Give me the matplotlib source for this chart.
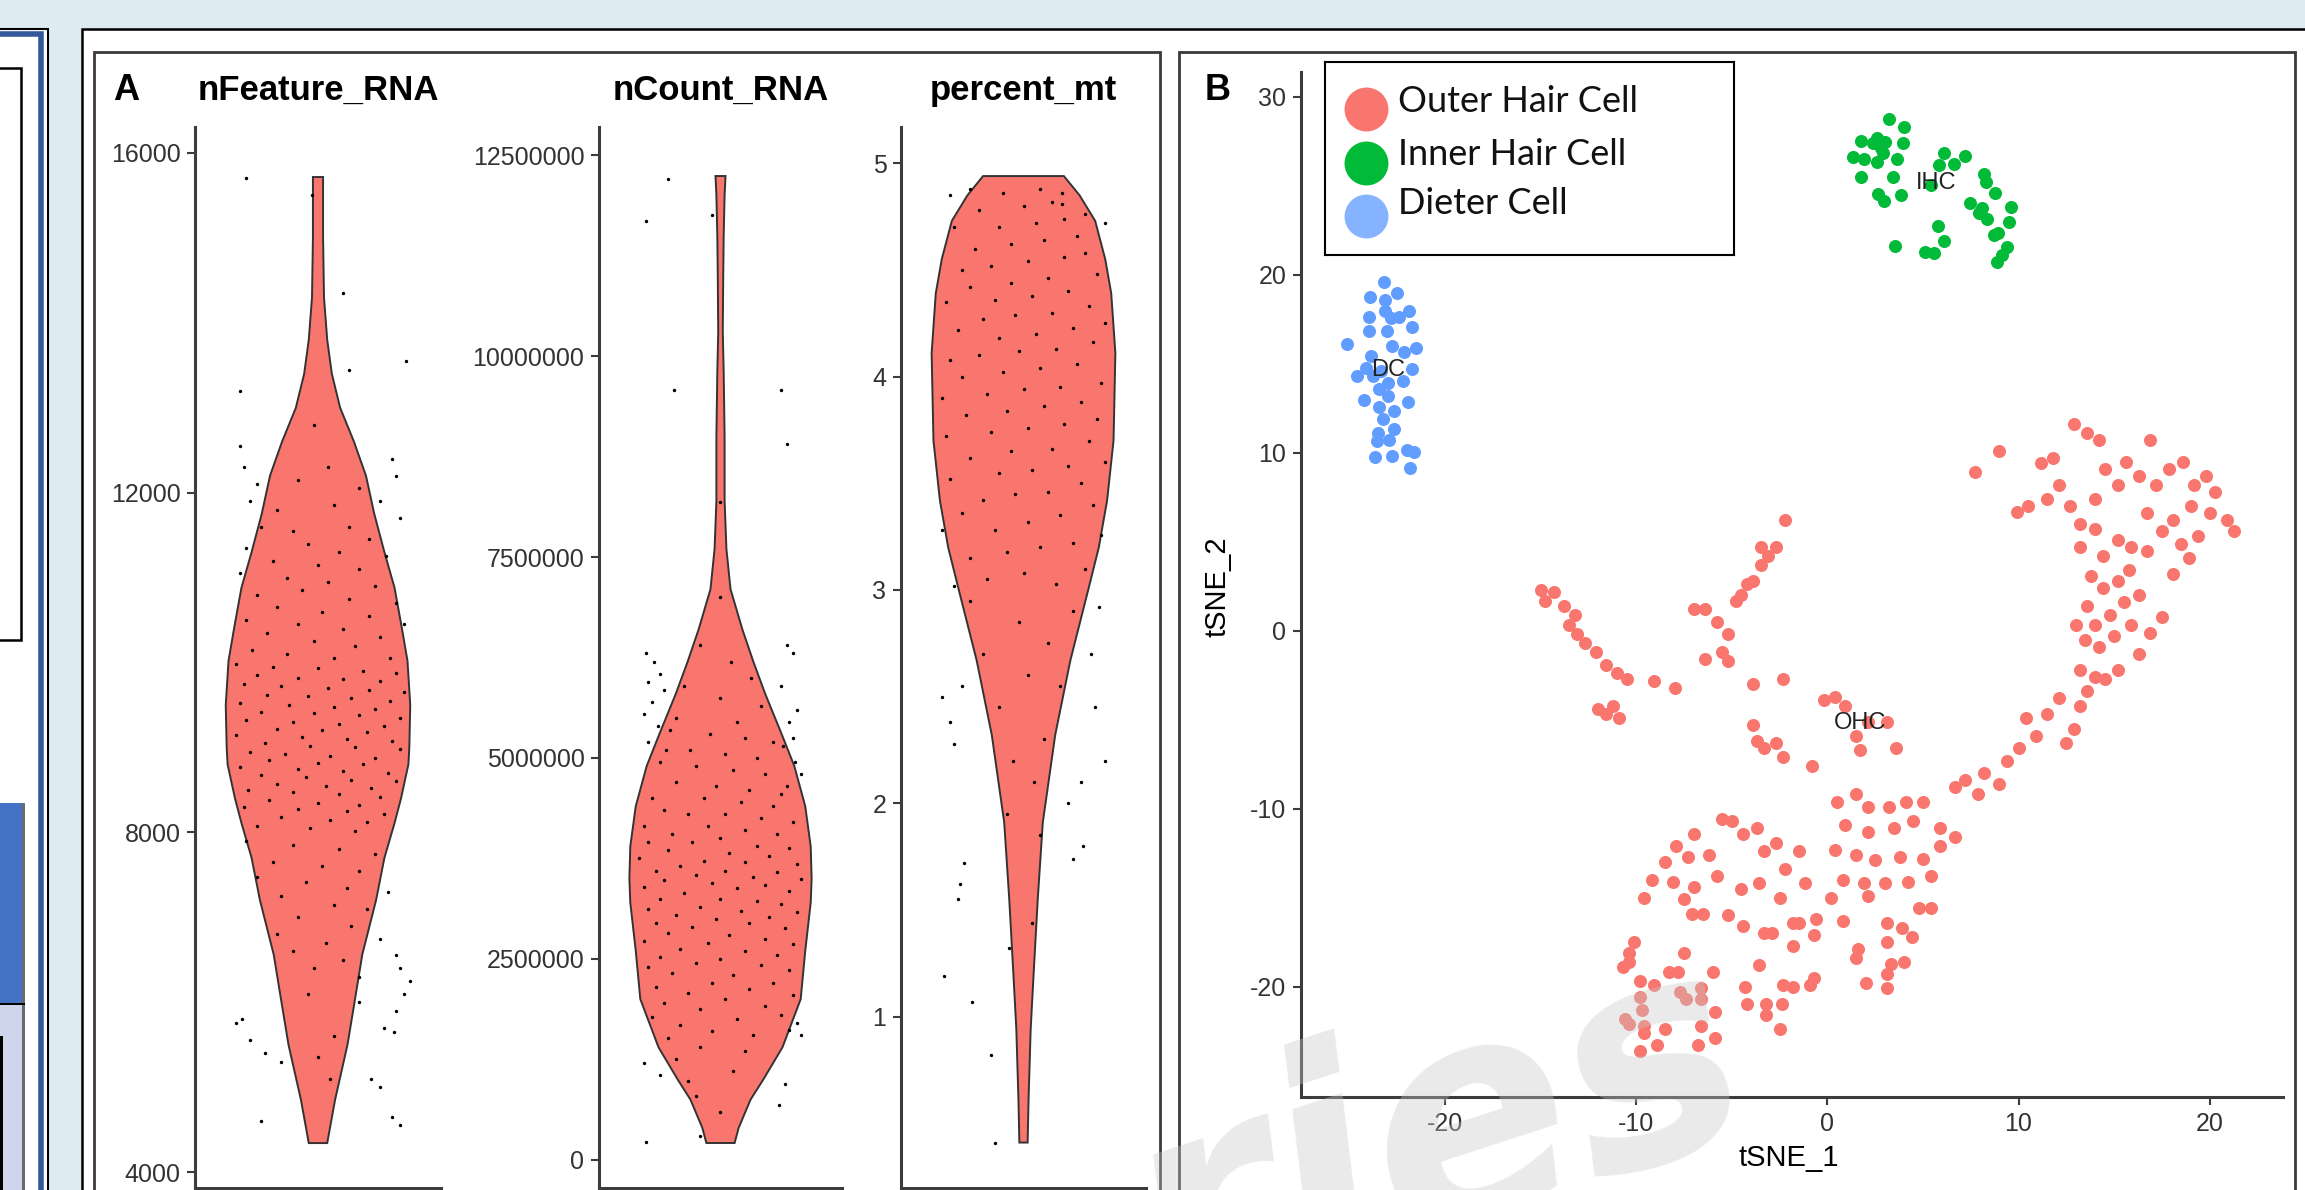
import matplotlib
matplotlib.use('Agg')
import matplotlib.pyplot as plt
from matplotlib.patches import Rectangle
import numpy as np

plt.rcParams['axes.unicode_minus'] = False

W, H = 2305, 1190
SANS = ['Liberation Sans', 'DejaVu Sans']

# ---------------- panel A data ----------------
# violin outlines: value, relative half width (1 = widest)
feat_val = [15717, 15000, 14300, 13800, 13400, 13000, 12600, 12200, 11750, 11300, 10880, 10400,
            10020, 9500, 9000, 8800, 8400, 8110, 7700, 7204, 6560, 6027, 5500, 4850, 4341]
feat_w = [0.055, 0.055, 0.065, 0.10, 0.15, 0.24, 0.39, 0.52, 0.61, 0.72, 0.83, 0.91,
          0.97, 1.00, 0.99, 0.98, 0.90, 0.83, 0.72, 0.63, 0.48, 0.40, 0.32, 0.185, 0.10]

count_val = [12.24, 12.0, 11.5, 11.0, 10.3, 9.8, 9.0, 8.2, 7.6, 7.1, 6.6, 6.2, 5.8, 5.3,
             4.9, 4.4, 3.9, 3.5, 3.2, 2.6, 2.0, 1.4, 1.0, 0.75, 0.4, 0.21]
count_w = [0.055, 0.045, 0.035, 0.03, 0.025, 0.035, 0.045, 0.045, 0.065, 0.11, 0.24, 0.36, 0.49, 0.67,
           0.81, 0.93, 0.99, 1.00, 0.99, 0.93, 0.88, 0.68, 0.47, 0.33, 0.20, 0.155]

mt_val = [4.94, 4.85, 4.73, 4.55, 4.39, 4.11, 3.70, 3.42, 3.2, 3.01, 2.67, 2.32, 1.91, 1.55,
          1.2, 0.94, 0.61, 0.41]
mt_w = [0.44, 0.61, 0.78, 0.89, 0.955, 1.00, 0.98, 0.91, 0.82, 0.71, 0.51, 0.345, 0.21, 0.155,
        0.11, 0.078, 0.055, 0.045]

# jittered cells: (offset from violin centre, value)
feat_pts = [(-0.35, 15700), (-0.03, 15500), (0.12, 14350), (0.43, 13550), (-0.38, 13200), (0.15, 13450),
            (-0.38, 12550), (-0.36, 12300), (0.36, 12400), (0.38, 12200), (-0.30, 12100), (0.05, 12300),
            (-0.10, 12150), (0.20, 12050), (-0.02, 12800),
            (-0.33, 11900), (-0.20, 11800), (0.08, 11850), (0.30, 11900), (0.40, 11700), (-0.28, 11600),
            (-0.12, 11550), (0.15, 11600), (0.25, 11450), (-0.35, 11350), (-0.05, 11400), (0.10, 11300),
            (0.33, 11250), (-0.22, 11200), (0.00, 11150), (0.20, 11100), (-0.38, 11050), (-0.15, 11000),
            (0.05, 10950), (0.28, 10900), (-0.30, 10800), (-0.08, 10850), (0.15, 10750), (0.38, 10700),
            (-0.20, 10650), (0.02, 10600), (0.25, 10550), (-0.35, 10500), (-0.10, 10450), (0.12, 10400),
            (0.42, 10450), (-0.25, 10350), (0.30, 10300), (-0.02, 10250), (0.18, 10200), (-0.32, 10150),
            (-0.15, 10100), (0.08, 10050), (0.35, 10050),
            (-0.40, 9980), (-0.22, 9950), (0.00, 9930), (0.22, 9900), (0.38, 9880), (-0.30, 9850),
            (-0.10, 9820), (0.12, 9800), (0.30, 9780), (-0.36, 9750), (-0.18, 9720), (0.05, 9700),
            (0.25, 9680), (0.42, 9650), (-0.25, 9620), (-0.05, 9600), (0.16, 9580), (0.35, 9550),
            (-0.38, 9520), (-0.14, 9500), (0.08, 9480), (0.28, 9450), (-0.28, 9420), (-0.02, 9400),
            (0.20, 9380), (0.40, 9350), (-0.35, 9320), (-0.12, 9300), (0.10, 9280), (0.32, 9250),
            (-0.20, 9220), (0.02, 9200), (0.24, 9180), (-0.40, 9150), (-0.08, 9120), (0.14, 9100),
            (0.36, 9080), (-0.26, 9050), (-0.04, 9020), (0.18, 9000), (0.40, 8980), (-0.33, 8950),
            (-0.16, 8920), (0.06, 8900), (0.28, 8880), (-0.24, 8850), (0.00, 8820), (0.22, 8800),
            (-0.38, 8770), (-0.10, 8750), (0.12, 8720), (0.34, 8700), (-0.28, 8670), (-0.06, 8650),
            (0.16, 8620), (0.38, 8600), (-0.20, 8570), (0.04, 8550), (0.26, 8520), (-0.34, 8500),
            (-0.12, 8470), (0.10, 8450), (0.30, 8420), (-0.24, 8380), (0.00, 8350), (0.20, 8320),
            (-0.36, 8300), (-0.10, 8270), (0.14, 8250), (0.32, 8220), (-0.18, 8180), (0.06, 8150),
            (0.24, 8120), (-0.30, 8080), (-0.04, 8050), (0.18, 8020),
            (-0.35, 7900), (-0.12, 7850), (0.10, 7800), (0.28, 7750), (-0.22, 7650), (0.02, 7600),
            (0.20, 7550), (-0.30, 7480), (-0.06, 7420), (0.14, 7350), (0.34, 7300), (-0.18, 7250),
            (0.08, 7150), (0.24, 7100), (-0.10, 7000), (0.16, 6900), (-0.20, 6800), (0.04, 6700),
            (0.30, 6750), (-0.12, 6600), (0.12, 6500), (0.38, 6550), (-0.02, 6400), (0.20, 6300),
            (-0.40, 5750), (-0.37, 5800), (-0.33, 5550), (-0.26, 5400), (-0.18, 5300), (0.08, 5600),
            (0.32, 5700), (0.37, 5650), (0.38, 5900), (0.42, 6100), (0.45, 6250), (0.06, 5100),
            (0.26, 5100), (0.30, 5000), (-0.28, 4600), (0.36, 4650), (0.40, 4550), (0.00, 5350),
            (0.20, 6000), (-0.05, 6100), (0.40, 6400)]

count_pts = [(-0.26, 12.2), (-0.37, 11.68), (-0.04, 11.75), (-0.23, 9.58), (0.30, 9.58), (0.33, 8.9),
             (0.0, 8.18), (0.0, 7.0),
             (-0.37, 6.3), (-0.33, 6.2), (-0.30, 6.05), (-0.36, 5.95), (-0.28, 5.85), (-0.34, 5.7),
             (-0.38, 5.55), (-0.31, 5.4), (-0.36, 5.2), (-0.27, 5.1),
             (0.33, 6.4), (0.36, 6.3), (0.30, 5.9), (0.38, 5.6), (0.34, 5.45), (0.36, 5.25), (0.31, 5.15),
             (0.37, 4.95), (0.40, 4.8), (0.33, 4.65),
             (-0.10, 6.4), (0.05, 6.2), (0.15, 6.0), (-0.18, 5.9), (0.0, 5.75), (0.20, 5.65), (-0.22, 5.5),
             (0.08, 5.45), (-0.25, 5.35), (-0.05, 5.3), (0.12, 5.25), (0.26, 5.2), (-0.15, 5.1), (0.02, 5.05),
             (0.18, 5.0), (-0.30, 4.95), (-0.12, 4.9), (0.06, 4.85), (0.22, 4.8), (-0.22, 4.7), (-0.02, 4.65),
             (0.14, 4.6), (0.30, 4.55), (-0.34, 4.5), (-0.08, 4.5), (0.10, 4.45), (0.26, 4.4), (-0.28, 4.35),
             (-0.16, 4.3), (0.02, 4.3), (0.20, 4.25), (0.36, 4.2), (-0.38, 4.15), (-0.06, 4.15), (0.12, 4.1),
             (-0.24, 4.05), (0.28, 4.05), (0.0, 4.0), (-0.36, 3.95), (-0.14, 3.95), (0.18, 3.9), (0.34, 3.88),
             (-0.26, 3.85), (0.04, 3.82), (0.24, 3.78), (-0.40, 3.75), (-0.08, 3.72), (0.12, 3.7), (0.38, 3.68),
             (-0.20, 3.65), (-0.32, 3.6), (0.02, 3.6), (0.28, 3.58), (-0.12, 3.55), (0.16, 3.52), (0.40, 3.5),
             (-0.28, 3.48), (-0.04, 3.45), (0.22, 3.42), (-0.38, 3.4), (0.08, 3.38), (0.34, 3.35), (-0.18, 3.32),
             (-0.30, 3.25), (0.00, 3.25), (0.18, 3.22), (0.30, 3.18), (-0.10, 3.15), (-0.36, 3.12), (0.10, 3.1),
             (0.38, 3.08), (-0.22, 3.05), (0.24, 3.02), (-0.02, 3.0), (-0.32, 2.95), (0.14, 2.95), (-0.14, 2.9),
             (0.32, 2.88), (-0.26, 2.82), (0.04, 2.8), (0.22, 2.75), (-0.38, 2.72), (-0.06, 2.7), (0.36, 2.68),
             (-0.20, 2.62), (0.12, 2.6), (0.28, 2.55), (-0.30, 2.52), (0.00, 2.5), (-0.12, 2.45), (0.20, 2.42),
             (-0.36, 2.4), (0.34, 2.36), (-0.24, 2.32), (0.06, 2.3), (-0.04, 2.2), (0.26, 2.2), (-0.32, 2.15),
             (0.14, 2.12), (-0.16, 2.08), (0.36, 2.05), (0.02, 2.0), (-0.28, 1.95), (0.22, 1.92), (-0.10, 1.88),
             (0.30, 1.8), (-0.34, 1.78), (0.08, 1.75), (0.38, 1.7), (-0.20, 1.68), (0.34, 1.62), (-0.04, 1.6),
             (0.16, 1.55), (0.40, 1.55), (-0.26, 1.52), (-0.10, 1.4), (0.12, 1.35), (-0.38, 1.2), (-0.22, 1.25),
             (0.06, 1.1), (-0.16, 0.98), (-0.30, 1.05), (0.32, 0.95), (-0.12, 0.8), (0.29, 0.68), (0.0, 0.6),
             (-0.37, 0.22), (-0.1, 0.3)]

mt_pts = [(-0.32, 1.55), (-0.39, 1.19), (-0.25, 1.07), (-0.07, 1.32), (0.04, 1.44), (-0.16, 0.82),
          (-0.14, 0.41), (-0.29, 1.72), (-0.31, 1.62), (0.29, 1.80), (0.24, 1.74), (0.22, 2.0), (0.28, 2.1),
          (-0.30, 2.55), (-0.34, 2.28), (-0.36, 2.38), (0.33, 2.7), (0.35, 2.45), (0.37, 2.92), (-0.05, 2.2),
          (0.10, 2.3), (-0.12, 2.45), (0.02, 2.6), (0.18, 2.55), (-0.20, 2.7), (0.12, 2.75), (-0.02, 2.85),
          (0.24, 2.9), (-0.26, 2.95), (0.05, 2.1), (-0.08, 1.95), (0.08, 1.85), (-0.40, 2.5), (0.40, 2.2),
          (-0.34, 3.02), (-0.18, 3.05), (0.00, 3.08), (0.16, 3.03), (0.30, 3.1), (-0.26, 3.15), (-0.08, 3.18),
          (0.08, 3.2), (0.24, 3.22), (0.38, 3.26), (-0.40, 3.28), (-0.14, 3.28),
          (0.02, 3.32), (0.18, 3.35), (-0.30, 3.36), (0.34, 3.4), (-0.20, 3.42), (-0.04, 3.45), (0.12, 3.46),
          (0.28, 3.5), (-0.36, 3.52), (-0.12, 3.55), (0.04, 3.56), (0.22, 3.58), (0.40, 3.6),
          (-0.26, 3.62), (-0.06, 3.65), (0.14, 3.66), (0.32, 3.7), (-0.38, 3.72), (-0.16, 3.74), (0.02, 3.76),
          (0.20, 3.78), (0.36, 3.8), (-0.28, 3.82), (-0.08, 3.84), (0.10, 3.86), (0.28, 3.88), (-0.40, 3.9),
          (-0.18, 3.92), (0.00, 3.94), (0.18, 3.95), (0.38, 3.97), (-0.30, 4.0), (-0.10, 4.02), (0.08, 4.04),
          (0.26, 4.06), (-0.36, 4.08), (-0.22, 4.1), (-0.02, 4.12), (0.16, 4.13), (0.34, 4.16), (-0.12, 4.18),
          (0.06, 4.2), (-0.32, 4.22), (0.24, 4.23), (0.40, 4.25), (-0.20, 4.27), (-0.04, 4.29), (0.14, 4.3),
          (0.32, 4.33), (-0.38, 4.35), (-0.14, 4.36), (0.04, 4.38), (0.22, 4.4), (-0.26, 4.42), (-0.06, 4.44),
          (0.12, 4.46), (0.36, 4.48), (-0.30, 4.5), (-0.16, 4.52), (0.02, 4.54), (0.20, 4.56), (0.30, 4.58),
          (-0.24, 4.6), (-0.06, 4.62), (0.10, 4.64), (0.26, 4.66), (-0.34, 4.7), (-0.12, 4.7), (0.06, 4.72),
          (0.20, 4.74), (-0.22, 4.78), (0.00, 4.8), (0.14, 4.82), (0.30, 4.76), (-0.10, 4.86), (0.08, 4.88),
          (-0.36, 4.85), (0.40, 4.72), (0.19, 4.86), (0.19, 4.81), (-0.26, 4.88)]

feat_ticks = [4000, 8000, 12000, 16000]
count_ticks = [0, 2500000, 5000000, 7500000, 10000000, 12500000]
mt_ticks = [1, 2, 3, 4, 5]
titles_a = ['nFeature_RNA', 'nCount_RNA', 'percent_mt']

# ---------------- panel B data ----------------
ohc = [(-15.0, 2.3), (-14.3, 2.2), (-14.8, 1.7), (-13.8, 1.4), (-13.2, 0.9), (-13.5, 0.3), (-13.1, -0.2),
       (-12.7, -0.7), (-12.1, -1.2), (-11.6, -1.9), (-11.0, -2.4), (-10.5, -2.7), (-9.1, -2.8), (-8.0, -3.2),
       (-11.6, -4.7), (-10.9, -4.9), (-12.0, -4.4), (-11.2, -4.2),
       (-7.0, 1.2), (-6.4, 1.2), (-5.8, 0.5), (-5.2, -0.2), (-5.5, -1.2), (-5.2, -1.7), (-6.4, -1.6),
       (-4.8, 1.7), (-4.5, 2.0), (-4.2, 2.6), (-3.9, 2.8), (-3.5, 3.7), (-3.1, 4.2), (-2.7, 4.7), (-2.2, 6.2),
       (-3.5, 4.7),
       (-3.9, -3.0), (-2.3, -2.7), (-3.9, -5.3), (-3.7, -6.2), (-3.3, -6.6), (-2.7, -6.3), (-2.3, -7.1),
       (-0.8, -7.6), (-0.2, -3.9), (0.4, -3.7), (0.9, -4.2), (1.5, -5.9), (2.1, -5.1), (3.1, -5.1),
       (3.6, -6.6), (1.7, -6.7),
       (-5.5, -10.6), (-5.0, -10.7), (-4.4, -11.4), (-3.7, -11.1), (-7.0, -11.4), (-7.9, -12.1), (-8.5, -13.0),
       (-7.3, -12.7), (-6.2, -12.6), (-3.3, -12.4), (-2.7, -11.9), (-1.5, -12.4), (-2.2, -13.4), (-9.2, -14.0),
       (-8.1, -14.1), (-7.0, -14.4), (-5.8, -13.8), (-4.5, -14.5), (-3.6, -14.2), (-2.5, -15.0), (-1.2, -14.2),
       (-9.6, -15.0), (-7.5, -15.1),
       (-7.1, -15.9), (-6.5, -15.9), (-5.2, -16.0), (-4.4, -16.6), (-3.3, -17.0), (-2.9, -17.0), (-1.8, -16.4),
       (-1.5, -16.4), (-0.6, -16.2), (0.8, -16.3), (-0.7, -17.1), (-1.8, -17.7), (-7.5, -18.1), (-10.1, -17.5),
       (-10.4, -18.1), (-10.4, -18.6), (-10.7, -18.9), (-8.3, -19.2), (-7.8, -19.2), (-6.0, -19.2),
       (-3.6, -18.8), (-9.8, -19.7), (-9.1, -19.9), (-4.3, -20.0), (-2.3, -19.9), (-1.8, -20.0), (-0.9, -19.9),
       (-0.7, -19.5), (-7.7, -20.3), (-6.6, -20.1), (-7.4, -20.7), (-6.6, -20.7), (-9.8, -20.6), (-9.7, -21.3),
       (-10.6, -21.8), (-10.4, -22.1), (-9.6, -22.2), (-9.6, -22.6), (-8.5, -22.4), (-6.6, -22.2),
       (-5.9, -21.4), (-4.2, -21.0), (-3.2, -21.0), (-2.4, -21.0), (-3.2, -21.6), (-2.5, -22.4), (-9.8, -23.6),
       (-8.9, -23.3), (-6.8, -23.3), (-5.9, -22.9),
       (0.5, -9.6), (1.5, -9.2), (2.1, -9.9), (3.2, -9.9), (4.1, -9.6), (5.0, -9.6), (0.9, -10.9), (2.1, -11.3),
       (3.5, -11.1), (4.5, -10.7), (5.9, -11.1), (0.4, -12.3), (1.5, -12.6), (2.5, -12.9), (3.8, -12.7),
       (5.0, -12.8), (5.9, -12.1), (6.7, -11.6), (0.8, -14.0), (1.9, -14.2), (3.0, -14.2), (4.2, -14.1),
       (5.4, -13.8), (0.2, -15.0), (2.1, -14.9),
       (4.8, -15.6), (5.4, -15.6), (3.1, -16.4), (3.9, -16.7), (4.4, -17.2), (3.1, -17.5), (3.3, -18.7),
       (4.0, -18.6), (3.1, -19.3), (3.1, -20.1), (2.0, -19.8), (1.6, -17.9), (1.5, -18.4),
       (6.7, -8.8), (7.2, -8.4), (7.9, -9.2), (8.2, -8.0), (9.0, -8.6), (9.4, -7.3), (10.0, -6.6), (10.4, -4.9),
       (10.9, -5.9), (11.5, -4.7), (12.1, -3.8), (12.9, -5.5), (12.5, -6.3), (13.2, -4.2), (13.6, -3.4),
       (14.0, -2.6),
       (7.7, 8.9), (9.0, 10.1), (9.9, 6.7), (10.5, 7.0), (11.5, 7.4), (11.2, 9.4), (12.1, 8.2), (12.7, 7.0),
       (13.2, 6.0), (14.0, 7.4), (14.5, 9.1), (15.2, 8.2), (15.6, 9.5), (16.3, 8.7), (16.9, 10.7),
       (12.9, 11.6), (13.6, 11.1), (14.2, 10.7), (11.8, 9.7), (17.2, 8.2), (17.9, 9.1), (18.6, 9.5),
       (19.2, 8.2), (19.8, 8.7), (20.3, 7.8), (20.9, 6.2), (21.3, 5.6), (20.0, 6.6), (19.0, 7.0), (18.1, 6.2),
       (17.5, 5.6), (16.7, 4.5), (15.9, 4.7), (15.2, 5.1), (14.4, 4.2), (13.8, 3.1), (14.4, 2.4), (15.2, 2.8),
       (15.8, 3.4), (16.3, 2.0), (15.5, 1.6), (14.8, 0.9), (14.0, 0.3), (13.5, -0.5), (14.2, -0.9),
       (15.0, -0.3), (15.9, 0.3), (16.9, -0.1), (17.5, 0.8), (18.1, 3.2), (18.9, 4.1), (19.4, 5.3),
       (16.3, -1.3), (15.2, -2.2), (14.5, -2.7), (13.2, -2.2), (13.6, 1.4), (13.0, 0.3), (16.7, 6.6),
       (18.5, 4.9), (14.0, 5.7), (13.2, 4.7)]

ihc = [(3.23, 28.75), (3.99, 28.3), (1.77, 27.55), (2.6, 27.68), (3.0, 27.49), (3.93, 27.4), (1.34, 26.65),
       (1.9, 26.5), (2.58, 26.37), (2.91, 26.84), (3.65, 26.52), (1.77, 25.52), (3.43, 25.52), (2.67, 24.55),
       (2.95, 24.17), (3.84, 24.46), (6.12, 26.84), (7.21, 26.69), (5.82, 26.18), (6.63, 26.24),
       (5.41, 25.06), (8.19, 25.67), (8.28, 25.24), (8.78, 24.62), (7.47, 24.03), (8.1, 23.75), (7.91, 23.47),
       (8.37, 23.13), (9.61, 23.8), (9.52, 22.96), (8.74, 22.25), (8.93, 22.38), (9.39, 21.56), (9.11, 21.12),
       (8.87, 20.75), (5.78, 22.75), (6.08, 21.93), (3.56, 21.65), (5.13, 21.27), (5.56, 21.22),
       (2.36, 27.4), (2.82, 27.12)]

dc = [(-23.19, 19.59), (-23.93, 18.78), (-22.53, 18.97), (-23.16, 18.56), (-23.14, 17.99), (-23.98, 17.66),
      (-22.41, 17.66), (-21.89, 17.98), (-21.76, 17.06), (-23.05, 16.87), (-23.98, 16.87), (-22.84, 17.57),
      (-25.16, 16.12), (-22.79, 16.01), (-22.18, 15.64), (-21.54, 15.88), (-23.89, 15.45), (-24.15, 14.76),
      (-24.62, 14.33), (-23.37, 14.62), (-21.76, 14.70), (-22.23, 14.01), (-23.45, 13.58), (-22.98, 13.92),
      (-22.98, 13.20), (-24.27, 12.94), (-21.94, 12.83), (-23.45, 12.6), (-22.7, 12.36), (-23.28, 11.89),
      (-22.67, 11.33), (-23.51, 11.1), (-23.58, 10.64), (-22.93, 10.73), (-23.68, 9.74), (-22.81, 9.83),
      (-22.01, 10.17), (-21.63, 10.07), (-21.85, 9.14), (-23.80, 14.29)]

cluster_labels = ['OHC', 'IHC', 'DC']
cluster_label_xy = [(1.7, -5.2), (5.7, 25.15), (-22.98, 14.66)]
legend_names = ['Outer Hair Cell', 'Inner Hair Cell', 'Dieter Cell']
tsne_xticks = [-20, -10, 0, 10, 20]
tsne_yticks = [-20, -10, 0, 10, 20, 30]

RED, GREEN, BLUE = '#F8766D', '#00BA38', '#619CFF'


def fbox(x0, y0, x1, y1):
    return [x0 / W, 1 - y1 / H, (x1 - x0) / W, (y1 - y0) / H]


def rect(fig, x0, y0, x1, y1, **kw):
    b = fbox(x0, y0, x1, y1)
    fig.add_artist(Rectangle((b[0], b[1]), b[2], b[3], transform=fig.transFigure, **kw))


fig = plt.figure(figsize=(W / 100, H / 100), dpi=100, facecolor='#DEEBF1')

# slide decorations
rect(fig, -5, 29, 48, 1200, facecolor='white', edgecolor='black', lw=1.5, zorder=-10)
rect(fig, -5, 34, 41.5, 1200, facecolor='none', edgecolor='#34589A', lw=4, zorder=-9)
rect(fig, -5, 68, 21, 640, facecolor='white', edgecolor='black', lw=1.8, zorder=-8)
rect(fig, -5, 803, 22, 1004, facecolor='#4472C4', edgecolor='none', zorder=-8)
rect(fig, 22, 803, 25, 1200, facecolor='#6b6b6b', edgecolor='none', zorder=-8)
rect(fig, -5, 1004, 22, 1200, facecolor='#CFD5EA', edgecolor='none', zorder=-8)
rect(fig, -5, 1003, 25, 1005, facecolor='black', edgecolor='none', zorder=-7)
rect(fig, -5, 1036, 3, 1200, facecolor='black', edgecolor='none', zorder=-7)
rect(fig, 82, 29, 2320, 1200, facecolor='white', edgecolor='black', lw=1.8, zorder=-10)
rect(fig, 94, 52, 1160, 1200, facecolor='none', edgecolor='#3a3a3a', lw=2, zorder=-6)
rect(fig, 1179, 52, 2295, 1200, facecolor='none', edgecolor='#3a3a3a', lw=2, zorder=-6)


def style(ax):
    ax.patch.set_visible(False)
    for s in ['top', 'right']:
        ax.spines[s].set_visible(False)
    for s in ['left', 'bottom']:
        ax.spines[s].set_linewidth(2.2)
        ax.spines[s].set_color('#3c3c3c')
    ax.tick_params(direction='out', length=5.5, width=1.5, color='#3c3c3c', pad=5,
                   labelsize=18, labelcolor='#333333')
    for t in ax.get_xticklabels() + ax.get_yticklabels():
        t.set_family(SANS)


# ---------------- panel A ----------------
violins = [
    (fbox(195, 127, 441, 1188), feat_val, feat_w, feat_pts, (3812, 16306), feat_ticks, 1.0),
    (fbox(599, 127, 842, 1188), count_val, count_w, count_pts, (-0.35, 12.85), count_ticks, 1e6),
    (fbox(901, 127, 1146, 1188), mt_val, mt_w, mt_pts, (0.197, 5.17), mt_ticks, 1.0),
]
for (pos, vals, rel, pts, ylim, ticks, unit), title in zip(violins, titles_a):
    ax = fig.add_axes(pos)
    v = np.array(vals) * unit
    w = np.array(rel) * 0.45
    ax.fill(np.concatenate([1 - w, (1 + w)[::-1]]), np.concatenate([v, v[::-1]]),
            facecolor=RED, edgecolor='#333333', lw=1.4, zorder=2)
    p = np.array(pts)
    ax.scatter(1 + p[:, 0], p[:, 1] * unit, s=6, c='black', linewidths=0, zorder=3)
    ax.set_xlim(0.4, 1.6)
    ax.set_ylim(ylim[0] * unit, ylim[1] * unit)
    ax.set_xticks([])
    ax.set_yticks(ticks)
    ax.set_yticklabels([str(t) for t in ticks])
    style(ax)
    cx = (pos[0] + pos[2] / 2)
    fig.text(cx, 1 - 100 / H, title, ha='center', va='baseline', fontsize=25,
             fontweight='bold', family=SANS)

fig.text(126 / W, 1 - 100 / H, 'A', ha='center', va='baseline', fontsize=26,
         fontweight='bold', family=SANS)
fig.text(1218 / W, 1 - 100 / H, 'B', ha='center', va='baseline', fontsize=26,
         fontweight='bold', family=SANS)

# ---------------- panel B ----------------
axb = fig.add_axes(fbox(1301, 72, 2283, 1097))
for pts, col in [(ohc, RED), (ihc, GREEN), (dc, BLUE)]:
    p = np.array(pts)
    axb.scatter(p[:, 0], p[:, 1], s=88, c=col, linewidths=0, zorder=2)
for lab, (lx, ly) in zip(cluster_labels, cluster_label_xy):
    axb.text(lx, ly, lab, ha='center', va='center', fontsize=17, color='#222222',
             family=SANS, zorder=3)
axb.set_xlim(-27.55, 23.84)
axb.set_ylim(-26.2, 31.4)
axb.set_xticks(tsne_xticks)
axb.set_yticks(tsne_yticks)
style(axb)
fig.text(1789 / W, 1 - 1158 / H, 'tSNE_1', ha='center', va='center', fontsize=21, family=SANS)
fig.text(1217 / W, 1 - 587 / H, 'tSNE_2', ha='center', va='center', fontsize=21,
         rotation=90, family=SANS)

# legend box
axl = fig.add_axes(fbox(1325, 62, 1734, 255))
axl.set_xlim(0, 409)
axl.set_ylim(193, 0)
axl.set_xticks([])
axl.set_yticks([])
for s in axl.spines.values():
    s.set_linewidth(1.5)
    s.set_color('black')
for i, (name, col) in enumerate(zip(legend_names, [RED, GREEN, '#86B3FF'])):
    axl.scatter([41], [47 + 53.5 * i], s=1000, c=col, linewidths=0)
    axl.text(73, [50, 103, 152][i], name, ha='left', va='baseline', fontsize=26,
             family=['Lato', 'DejaVu Sans'], color='#111111')

# watermark fragment, cut by the bottom edge as in the source
fig.text(1165 / W, 1 - 1320 / H, 'ries', rotation=18, rotation_mode='anchor', ha='left',
         va='baseline', fontsize=215, fontweight='bold', fontstyle='italic',
         color='#c8c8c8', alpha=0.38, zorder=20, family='DejaVu Sans')

fig.savefig('out.png', dpi=100, facecolor=fig.get_facecolor())
